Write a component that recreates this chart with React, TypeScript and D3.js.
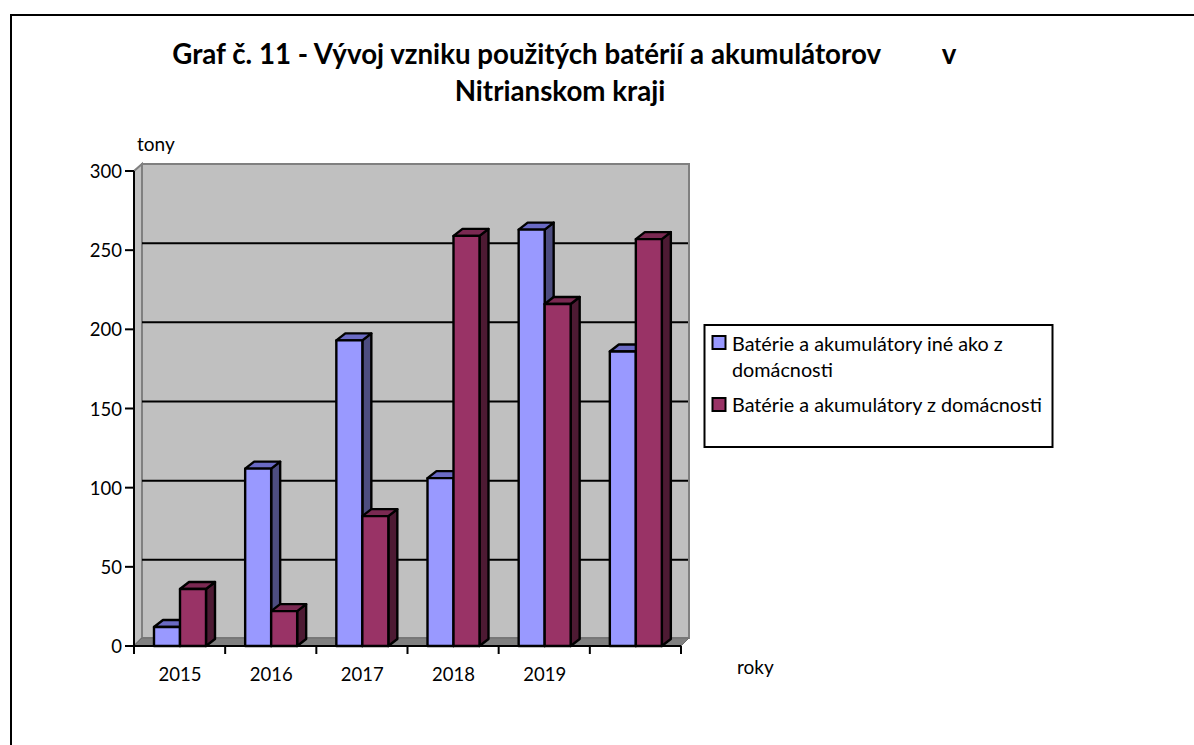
import React from "react";
import * as d3 from "d3";

const categories = ["2015", "2016", "2017", "2018", "2019", ""];
const seriesNames = ["Batérie a akumulátory iné ako z domácnosti", "Batérie a akumulátory z domácnosti"];
const otherValues = [12, 112, 193, 106, 263, 186];
const householdValues = [36, 22, 82, 259, 216, 257];
const yTicks = [0, 50, 100, 150, 200, 250, 300];

const font = "Lato, 'Open Sans', sans-serif";
const left = 134, right = 681, bottom = 646, top = 171;
const wallDx = 8, wallDy = 8, barDx = 9, barDy = 7;

const xScale = d3.scaleBand<string>().domain(categories.map((c, i) => c + "#" + i)).range([left, right]);
const inner = d3.scaleBand<string>().domain(["other", "home"]).range([20, 72]);
const y = d3.scaleLinear().domain([0, 300]).range([bottom, top]);

const palette: Record<string, { front: string; topFace: string; side: string }> = {
  other: { front: "#9999FF", topFace: "#6A6AC4", side: "#4D4D80" },
  home: { front: "#993366", topFace: "#7A2952", side: "#4D1A33" },
};

const poly = (pts: [number, number][]) => pts.map((p) => p.join(",")).join(" ");

function Bar({ x, w, v, kind }: { x: number; w: number; v: number; kind: string }) {
  const t = y(v);
  const c = palette[kind];
  const s = { stroke: "#000", strokeWidth: 2.4, strokeLinejoin: "round" as const };
  return (
    <g>
      <polygon points={poly([[x + w, t], [x + w + barDx, t - barDy], [x + w + barDx, bottom - barDy], [x + w, bottom]])} fill={c.side} {...s} />
      <polygon points={poly([[x, t], [x + barDx, t - barDy], [x + w + barDx, t - barDy], [x + w, t]])} fill={c.topFace} {...s} />
      <rect x={x} y={t} width={w} height={bottom - t} fill={c.front} {...s} />
    </g>
  );
}

export default function App() {
  const keys = xScale.domain();
  return (
    <svg width={1194} height={745} style={{ position: "fixed", left: 0, top: 0, background: "#fff" }} fontFamily={font}>
      <path d="M11,745V15H1194" fill="none" stroke="#000" strokeWidth={2} />

      <g textAnchor="middle" fontWeight={700} fontSize={27.7} fill="#000">
        <text x={881} y={64} textAnchor="end">Graf č. 11 - Vývoj vzniku použitých batérií a akumulátorov</text>
        <text x={949} y={64}>v</text>
        <text x={560} y={101}>Nitrianskom kraji</text>
      </g>

      {/* walls */}
      <polygon points={poly([[left, bottom], [left + wallDx, bottom - wallDy], [left + wallDx, top - wallDy + 1], [left, top]])} fill="#C0C0C0" stroke="#808080" strokeWidth={2} />
      <rect x={left + wallDx} y={top - wallDy + 1} width={right - left} height={bottom - top - 1} fill="#C0C0C0" stroke="#808080" strokeWidth={2} />
      <polygon points={poly([[left, bottom], [right, bottom], [right + wallDx, bottom - wallDy], [left + wallDx, bottom - wallDy]])} fill="#808080" stroke="#6e6e6e" strokeWidth={1} />
      {yTicks.filter((t) => t > 0 && t < 300).map((t) => (
        <line key={t} x1={left + wallDx} x2={right + wallDx - 1} y1={y(t) - wallDy + 1} y2={y(t) - wallDy + 1} stroke="#000" strokeWidth={2} />
      ))}

      {/* bars */}
      {keys.map((k, i) => {
        const x0 = xScale(k) as number;
        const w = inner.bandwidth();
        return (
          <g key={k}>
            <Bar x={x0 + (inner("other") as number)} w={w} v={otherValues[i]} kind="other" />
            <Bar x={x0 + (inner("home") as number)} w={w} v={householdValues[i]} kind="home" />
          </g>
        );
      })}

      {/* axes */}
      <g stroke="#000" strokeWidth={2}>
        <line x1={left} x2={left} y1={top} y2={bottom + 8} />
        <line x1={left - 9} x2={right} y1={bottom} y2={bottom} />
        {yTicks.map((t) => <line key={t} x1={left - 9} x2={left} y1={y(t)} y2={y(t)} />)}
        {keys.map((k) => <line key={k} x1={(xScale(k) as number) + xScale.bandwidth()} x2={(xScale(k) as number) + xScale.bandwidth()} y1={bottom} y2={bottom + 8} />)}
      </g>
      <g fontSize={18.5} fill="#000">
        {yTicks.map((t) => <text key={t} x={122} y={y(t) + 7} textAnchor="end">{t}</text>)}
        {keys.map((k, i) => (
          <text key={k} x={(xScale(k) as number) + 46} y={681} textAnchor="middle">{categories[i]}</text>
        ))}
        <text x={137} y={151} fontSize={19}>tony</text>
        <text x={737} y={674} fontSize={19}>roky</text>
      </g>

      {/* legend */}
      <rect x={704.5} y={325} width={348} height={122} fill="#fff" stroke="#000" strokeWidth={2} />
      <rect x={712.5} y={336} width={13} height={13} fill="#9999FF" stroke="#000" strokeWidth={2} />
      <rect x={712.5} y={398} width={13} height={13} fill="#993366" stroke="#000" strokeWidth={2} />
      <g fontSize={19.8} fill="#000">
        <text x={732} y={351}>{seriesNames[0].replace(" domácnosti", "")}</text>
        <text x={732} y={377}>domácnosti</text>
        <text x={732} y={412}>{seriesNames[1]}</text>
      </g>
    </svg>
  );
}
